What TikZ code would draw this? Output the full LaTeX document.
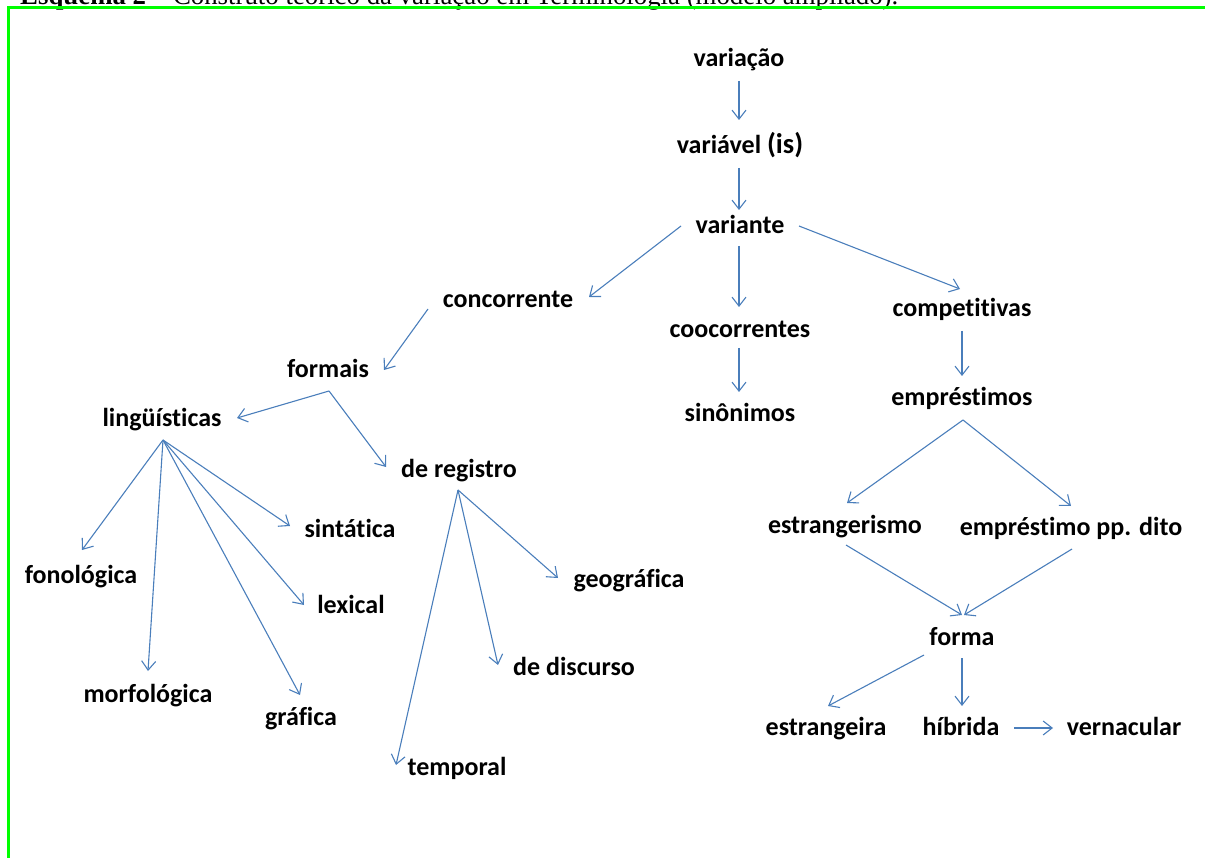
\documentclass[tikz,border=0pt]{standalone}
\usepackage{fontspec}
\setmainfont{Carlito}[Ligatures=CommonOff]
\newfontfamily\capfont{Liberation Serif}
\usetikzlibrary{arrows.meta}
\definecolor{arrblue}{HTML}{4A7EBB}
\definecolor{framegreen}{HTML}{00FF00}
\begin{document}
\begin{tikzpicture}[x=1pt,y=-1pt,
  lbl/.style={font=\bfseries\fontsize{26}{30}\selectfont, inner sep=0pt, anchor=base},
  arr/.style={draw=arrblue, line width=1.1pt, -{Straight Barb[length=9pt,width=14pt,line width=1.1pt]}},
  frameline/.style={draw=framegreen, line width=3pt}]
\useasboundingbox (0,0) rectangle (1205,858);
\clip (0,0) rectangle (1205,858);
% caption (cut off at the top, as in the reference)
\node[anchor=base west, inner sep=0pt] (cap) at (20,4.5) {\resizebox{878pt}{!}{\capfont\textbf{Esquema 2} – Construto teórico da variação em Terminologia (modelo ampliado).}};
% frame
\coordinate (fTL) at (8,8);
\coordinate (fTR) at (1207,8);
\coordinate (fBL) at (8,860);
\draw[frameline] (fTR) -- (fTL) -- (fBL);
% nodes
\node[lbl] (variacao) at (739,67) {variação};
\node[lbl] (variavel) at (740,154) {variável {\fontsize{28.5}{30}\selectfont(is)}};
\node[lbl] (variante) at (740,234) {variante};
\node[lbl] (concorrente) at (508,308) {concorrente};
\node[lbl] (coocorrentes) at (740,338) {coocorrentes};
\node[lbl] (competitivas) at (962,317) {competitivas};
\node[lbl] (formais) at (328,378) {formais};
\node[lbl] (sinonimos) at (740,421) {sinônimos};
\node[lbl] (emprestimos) at (962,406) {empréstimos};
\node[lbl] (linguisticas) at (162,427) {lingüísticas};
\node[lbl] (deregistro) at (459,477) {de registro};
\node[lbl] (sintatica) at (350,537) {sintática};
\node[lbl] (fonologica) at (81,583) {fonológica};
\node[lbl] (lexical) at (351,613) {lexical};
\node[lbl] (geografica) at (629,587) {geográfica};
\node[lbl] (dediscurso) at (574,675) {de discurso};
\node[lbl] (temporal) at (457,775) {temporal};
\node[lbl] (morfologica) at (148,702) {morfológica};
\node[lbl] (grafica) at (301,725) {gráfica};
\node[lbl] (estrangerismo) at (845,533) {estrangerismo};
\node[lbl] (emprestimopp) at (1071,535) {empréstimo pp. dito};
\node[lbl] (forma) at (962,645) {forma};
\node[lbl] (estrangeira) at (826,735) {estrangeira};
\node[lbl] (hibrida) at (961,735) {híbrida};
\node[lbl] (vernacular) at (1124,735) {vernacular};
% connectors
\draw[arr] ([shift={(0,14)}]variacao.base) -- ([shift={(-1,-34)}]variavel.base);
\draw[arr] ([shift={(-1,14)}]variavel.base) -- ([shift={(-1,-24)}]variante.base);
\draw[arr] ([shift={(-59,-8)}]variante.base) -- ([shift={(81,-11)}]concorrente.base);
\draw[arr] ([shift={(-1,12)}]variante.base) -- ([shift={(-1,-31)}]coocorrentes.base);
\draw[arr] ([shift={(59,-8)}]variante.base) -- ([shift={(-2,-28)}]competitivas.base);
\draw[arr] ([shift={(-80,1)}]concorrente.base) -- ([shift={(56,-8)}]formais.base);
\draw[arr] ([shift={(-1,10)}]coocorrentes.base) -- ([shift={(-1,-29)}]sinonimos.base);
\draw[arr] ([shift={(0,14)}]competitivas.base) -- ([shift={(0,-30)}]emprestimos.base);
\draw[arr] ([shift={(1,13)}]formais.base) -- ([shift={(75,-9)}]linguisticas.base);
\draw[arr] ([shift={(1,13)}]formais.base) -- ([shift={(-73,-10)}]deregistro.base);
\draw[arr] ([shift={(1,13)}]linguisticas.base) -- ([shift={(1,-33)}]fonologica.base);
\draw[arr] ([shift={(1,13)}]linguisticas.base) -- ([shift={(0,-31)}]morfologica.base);
\draw[arr] ([shift={(1,13)}]linguisticas.base) -- ([shift={(-1,-30)}]grafica.base);
\draw[arr] ([shift={(1,13)}]linguisticas.base) -- ([shift={(-47,-8)}]lexical.base);
\draw[arr] ([shift={(1,13)}]linguisticas.base) -- ([shift={(-60,-11)}]sintatica.base);
\draw[arr] ([shift={(-1,13)}]deregistro.base) -- ([shift={(-61,-10)}]temporal.base);
\draw[arr] ([shift={(-1,13)}]deregistro.base) -- ([shift={(-76,-10)}]dediscurso.base);
\draw[arr] ([shift={(-1,13)}]deregistro.base) -- ([shift={(-71,-9)}]geografica.base);
\draw[arr] ([shift={(1,14)}]emprestimos.base) -- ([shift={(2,-30)}]estrangerismo.base);
\draw[arr] ([shift={(1,14)}]emprestimos.base) -- ([shift={(0,-29)}]emprestimopp.base);
\draw[arr] ([shift={(1,12)}]estrangerismo.base) -- ([shift={(0,-30)}]forma.base);
\draw[arr] ([shift={(1,14)}]emprestimopp.base) -- ([shift={(2,-30)}]forma.base);
\draw[arr] ([shift={(-38,10)}]forma.base) -- ([shift={(2,-29)}]estrangeira.base);
\draw[arr] ([shift={(0,13)}]forma.base) -- ([shift={(1,-29)}]hibrida.base);
\draw[arr] ([shift={(53,-7)}]hibrida.base) -- ([shift={(-71,-7)}]vernacular.base);
\end{tikzpicture}
\end{document}
